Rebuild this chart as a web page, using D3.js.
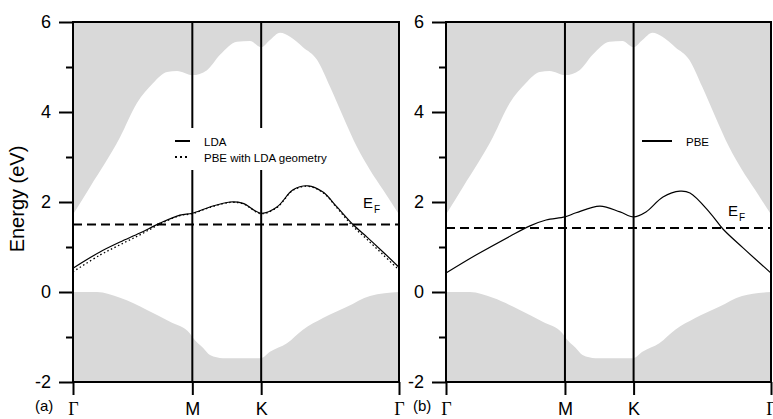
<!DOCTYPE html>
<html lang="en">
<head>
<meta charset="UTF-8">
<script src="https://cdn.jsdelivr.net/npm/d3@7"></script>
<style>
    body { margin: 0; background: #fff; }
    svg { display: block; font-family: "Liberation Sans", Arial, Helvetica, sans-serif; }
</style>
</head>
<body>
<svg id="chart" width="773" height="419"></svg>
<script>
    // k-path Γ-M-K-Γ (ΓM = 1, MK = 1/√3, KΓ = 2/√3)
    var kTicks = [0, 1, 1.577, 2.732];
    var kLabels = ["Γ", "M", "K", "Γ"];
    var eTicksMajor = [-2, 0, 2, 4, 6];
    var eTicksMinor = [-1, 1, 3, 5];

    // projected bulk band edges (gray regions), [k, E]
    var gapTop = [[0, 1.72], [0.142, 2.33], [0.394, 3.44], [0.536, 4.2], [0.67, 4.64], [0.788, 4.89],
        [0.872, 4.91], [1.0, 4.82], [1.123, 4.93], [1.232, 5.27], [1.374, 5.56], [1.483, 5.58],
        [1.577, 5.44], [1.651, 5.6], [1.735, 5.76], [1.819, 5.67], [1.927, 5.44], [2.045, 5.16],
        [2.154, 4.56], [2.263, 3.9], [2.38, 3.22], [2.489, 2.71], [2.598, 2.27], [2.732, 1.72]];
    var gapBottom = [[0, 0], [0.201, 0], [0.394, -0.13], [0.62, -0.4], [0.813, -0.66], [0.98, -0.92],
        [1.0, -1.0], [1.089, -1.24], [1.148, -1.4], [1.257, -1.47], [1.577, -1.47], [1.651, -1.33],
        [1.793, -1.14], [1.927, -0.84], [2.095, -0.58], [2.296, -0.33], [2.489, -0.09], [2.732, 0]];

    // surface band, panel (a)
    var ldaBand = [[0, 0.53], [0.226, 0.89], [0.394, 1.11], [0.561, 1.31], [0.729, 1.53], [0.897, 1.71],
        [1.0, 1.75], [1.148, 1.89], [1.316, 2.0], [1.425, 1.97], [1.577, 1.75], [1.71, 1.89],
        [1.844, 2.27], [1.969, 2.36], [2.095, 2.22], [2.212, 1.89], [2.346, 1.5], [2.464, 1.22],
        [2.598, 0.89], [2.732, 0.55]];
    var pbeLdaBand = [[0, 0.45], [0.226, 0.82], [0.394, 1.05], [0.561, 1.27], [0.729, 1.51], [0.897, 1.7],
        [1.0, 1.74], [1.148, 1.88], [1.316, 1.99], [1.425, 1.96], [1.577, 1.74], [1.71, 1.88],
        [1.844, 2.26], [1.969, 2.35], [2.095, 2.21], [2.212, 1.87], [2.346, 1.46], [2.464, 1.17],
        [2.598, 0.83], [2.732, 0.49]];
    // surface band, panel (b)
    var pbeBand = [[0, 0.42], [0.252, 0.82], [0.538, 1.24], [0.706, 1.47], [0.841, 1.6], [1.0, 1.67],
        [1.093, 1.76], [1.294, 1.91], [1.463, 1.78], [1.577, 1.67], [1.681, 1.78], [1.824, 2.11],
        [1.967, 2.24], [2.051, 2.2], [2.219, 1.76], [2.328, 1.4], [2.497, 0.98], [2.732, 0.42]];

    var fermiA = 1.5, fermiB = 1.42;

    var gray = "#d9d9d9";
    var svg = d3.select("#chart");
    var y = d3.scaleLinear().domain([-2, 6]).range([382, 22]);

    function drawPanel(p) {
        var x = d3.scaleLinear().domain([0, kTicks[3]]).range([p.x0, p.x1]);
        var g = svg.append("g");

        g.append("rect")
            .attr("x", p.x0).attr("y", y(6))
            .attr("width", p.x1 - p.x0).attr("height", y(-2) - y(6))
            .attr("fill", "#fff");

        var areaTop = d3.area().x(d => x(d[0])).y0(d => y(d[1])).y1(y(6)).curve(d3.curveMonotoneX);
        var areaBot = d3.area().x(d => x(d[0])).y0(y(-2)).y1(d => y(d[1])).curve(d3.curveMonotoneX);
        g.append("path").datum(gapTop).attr("d", areaTop).attr("fill", gray);
        g.append("path").datum(gapBottom).attr("d", areaBot).attr("fill", gray);

        // Fermi level
        g.append("line")
            .attr("x1", x(0)).attr("x2", x(kTicks[3]))
            .attr("y1", y(p.fermi)).attr("y2", y(p.fermi))
            .attr("stroke", "#000").attr("stroke-width", 2)
            .attr("stroke-dasharray", "9,5");

        var line = d3.line().x(d => x(d[0])).y(d => y(d[1])).curve(d3.curveCatmullRom);
        p.bands.forEach(function (b) {
            g.append("path").datum(b.data).attr("d", line)
                .attr("fill", "none").attr("stroke", "#000")
                .attr("stroke-width", b.dash ? 1.3 : 1.2)
                .attr("stroke-dasharray", b.dash || null);
        });

        // M and K lines
        g.selectAll(".sym").data(kTicks.slice(1, 3)).enter().append("line")
            .attr("x1", d => x(d)).attr("x2", d => x(d))
            .attr("y1", y(6)).attr("y2", y(-2))
            .attr("stroke", "#000").attr("stroke-width", 2);

        // legend
        var lg = p.legend;
        g.append("rect").attr("x", lg.bx).attr("y", lg.by)
            .attr("width", lg.bw).attr("height", lg.bh).attr("fill", "#fff");
        lg.items.forEach(function (it, i) {
            var yy = lg.y + i * 16;
            g.append("line").attr("x1", lg.x).attr("x2", lg.x + lg.len)
                .attr("y1", yy).attr("y2", yy)
                .attr("stroke", "#000").attr("stroke-width", 2)
                .attr("stroke-dasharray", it.dash || null);
            g.append("text").attr("x", lg.tx).attr("y", yy + 4.5)
                .attr("font-size", "11.5px").text(it.name);
        });

        // frame
        g.append("rect").attr("x", p.x0).attr("y", y(6))
            .attr("width", p.x1 - p.x0).attr("height", y(-2) - y(6))
            .attr("fill", "none").attr("stroke", "#000").attr("stroke-width", 2);

        // axes
        var ax = g.append("g").attr("transform", "translate(" + p.x0 + ",0)")
            .call(d3.axisLeft(y).tickValues(eTicksMajor).tickSize(14).tickPadding(8));
        ax.selectAll("text").attr("font-size", "18px").attr("font-family", "Liberation Sans, Arial, sans-serif")
            .attr("fill", "#000").text(d => d < 0 ? "-" + Math.abs(d) : d);
        var axm = g.append("g").attr("transform", "translate(" + p.x0 + ",0)")
            .call(d3.axisLeft(y).tickValues(eTicksMinor).tickSize(7).tickFormat(""));
        var axx = g.append("g").attr("transform", "translate(0," + y(-2) + ")")
            .call(d3.axisBottom(x).tickValues(kTicks).tickFormat((d, i) => kLabels[i]).tickSize(13).tickPadding(7));
        axx.selectAll("text").attr("font-size", "18px").attr("fill", "#000")
            .attr("font-family", (d, i) => kLabels[i] == "Γ" ? "Liberation Serif, serif" : "Liberation Sans, Arial, sans-serif");
        [ax, axm, axx].forEach(function (a) {
            a.select(".domain").remove();
            a.selectAll("line").attr("stroke", "#000").attr("stroke-width", 2);
        });

        // E_F label
        var ef = g.append("text").attr("x", p.efx).attr("y", p.efy).attr("font-size", "15px");
        ef.append("tspan").text("E");
        ef.append("tspan").attr("font-size", "10px").attr("dx", 1).attr("dy", 5).text("F");

        g.append("text").attr("x", p.tagx).attr("y", 411).attr("font-size", "15px").text(p.tag);
    }

    drawPanel({
        x0: 73, x1: 399, fermi: fermiA, tag: "(a)", tagx: 35, efx: 363, efy: 208,
        bands: [{data: pbeLdaBand, dash: "1.5,2.5"}, {data: ldaBand}],
        legend: {bx: 168, by: 128, bw: 172, bh: 42, x: 175, len: 15, tx: 204, y: 141,
            items: [{name: "LDA"}, {name: "PBE with LDA geometry", dash: "2,3"}]}
    });

    drawPanel({
        x0: 446, x1: 771, fermi: fermiB, tag: "(b)", tagx: 413, efx: 728, efy: 216,
        bands: [{data: pbeBand}],
        legend: {bx: 635, by: 128, bw: 85, bh: 26, x: 642, len: 30, tx: 686, y: 141,
            items: [{name: "PBE"}]}
    });

    svg.append("text")
        .attr("transform", "translate(24,199) rotate(-90)")
        .attr("text-anchor", "middle")
        .attr("font-size", "20px")
        .text("Energy (eV)");
</script>
</body>
</html>
